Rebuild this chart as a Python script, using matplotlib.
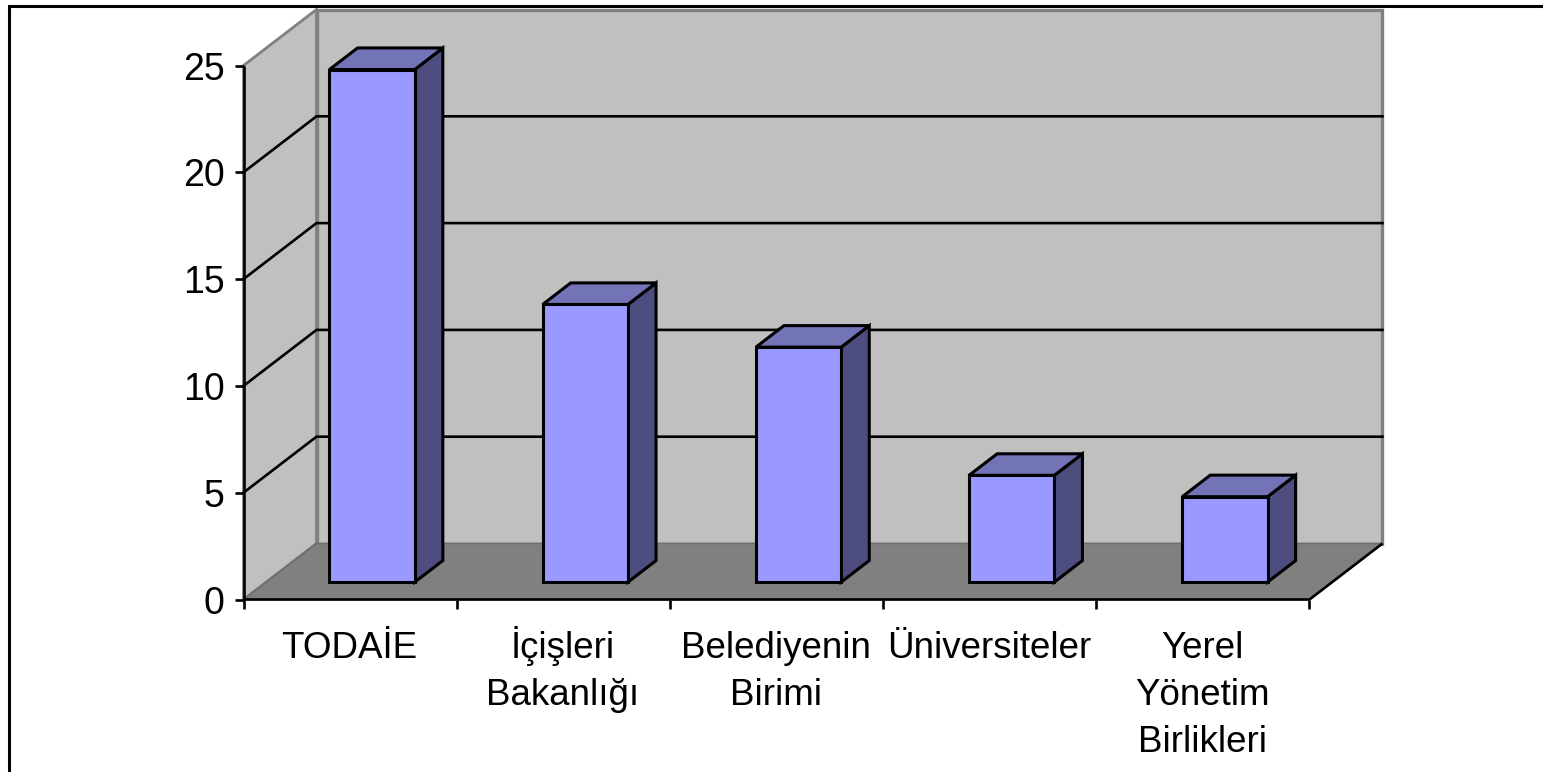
import matplotlib
matplotlib.use("Agg")
import matplotlib.pyplot as plt
from matplotlib.patches import Polygon

categories = ["TODAİE", "İçişleri\nBakanlığı", "Belediyenin\nBirimi", "Üniversiteler", "Yerel\nYönetim\nBirlikleri"]
values = [24, 13, 11, 5, 4]
y_ticks = [0, 5, 10, 15, 20, 25]

W, H = 1543, 772
X0, X1 = 243.5, 1309.5      # front plane pixels
Y0, YT = 599.5, 65.5
DX_PX, DY_PX = 73.0, 56.0   # depth of the box in pixels
BAR_W = 0.40
D_A, D_B = 0.31, 0.695      # bar front and back as a share of the box depth

n = len(categories)
plt.rcParams['font.family'] = ['Liberation Sans', 'DejaVu Sans']
fig = plt.figure(figsize=(W / 100, H / 100), dpi=100, facecolor="white")
ax = fig.add_axes([X0 / W, 1 - Y0 / H, (X1 - X0) / W, (Y0 - YT) / H])
ax.set_xlim(0, n)
ax.set_ylim(0, y_ticks[-1])
ax.patch.set_visible(False)

dx = DX_PX / ((X1 - X0) / n)
dy = DY_PX / ((Y0 - YT) / y_ticks[-1])


def P(x, y, d):
    return (x + d * dx, y + d * dy)


def face(pts, fc, ec, lw, z, join="miter"):
    ax.add_patch(Polygon(pts, closed=True, facecolor=fc, edgecolor=ec, linewidth=lw,
                         zorder=z, clip_on=False, joinstyle=join))


top = y_ticks[-1]
GREY = "#c0c0c0"
EDGE = "#808080"
# walls and floor
face([P(0, 0, 1), P(n, 0, 1), P(n, top, 1), P(0, top, 1)], GREY, EDGE, 2.4, 1)
face([P(0, 0, 0), P(0, 0, 1), P(0, top, 1), P(0, top, 0)], GREY, EDGE, 2.0, 1.5)
face([P(0, 0, 0), P(n, 0, 0), P(n, 0, 1), P(0, 0, 1)], "#808080", "#6e6e6e", 1.2, 2)

# gridlines on side and back walls
for t in y_ticks[1:-1]:
    xs, ys = zip(P(0, t, 0), P(0, t, 1), P(n, t, 1))
    ax.plot(xs, ys, color="black", lw=1.9, zorder=3, clip_on=False, solid_joinstyle="miter")

# floor front and right edges, left wall edge
xs, ys = zip(P(0, 0, 0), P(n, 0, 0), P(n, 0, 1))
ax.plot(xs, ys, color="black", lw=1.9, zorder=4, clip_on=False, solid_capstyle="butt")
ax.plot([0, 0], [0, top], color="black", lw=1.9, zorder=4, clip_on=False, solid_capstyle="butt")

# bars
for i, v in enumerate(values):
    l, r = i + 0.5 - BAR_W / 2 - 0.003, i + 0.5 + BAR_W / 2 - 0.003
    face([P(r, 0, D_A), P(r, 0, D_B), P(r, v, D_B), P(r, v, D_A)], "#4d4d80", "black", 2.2, 5)
    face([P(l, v, D_A), P(r, v, D_A), P(r, v, D_B), P(l, v, D_B)], "#7373b8", "black", 2.2, 5)
    face([P(l, 0, D_A), P(r, 0, D_A), P(r, v, D_A), P(l, v, D_A)], "#9999ff", "black", 2.2, 6)

for s in ("top", "right", "left", "bottom"):
    ax.spines[s].set_visible(False)
ax.set_yticks(y_ticks)
ax.set_yticklabels([str(t) for t in y_ticks], fontsize=27)
ax.set_xticks(range(n + 1))
ax.set_xticklabels([""] * (n + 1))
ax.tick_params(axis="y", length=6.5, width=1.9, pad=7, color="black")
ax.tick_params(axis="x", length=6.5, width=1.9, color="black")

# category labels: one text per line, on fixed baselines 47 px apart
for i, c in enumerate(categories):
    for k, line in enumerate(c.split("\n")):
        ax.annotate(line, xy=(i + 0.5, 0), xycoords="data",
                    xytext=(-0.5, -(58.0 + 47.3 * k) * 0.72), textcoords="offset points",
                    ha="center", va="baseline", fontsize=26.5, annotation_clip=False)

# outer frame: left and top edges only
fig.add_artist(plt.Line2D([8.5 / W, 8.5 / W, 1], [0, 1 - 5.5 / H, 1 - 5.5 / H],
                          transform=fig.transFigure, color="black", lw=2.2,
                          solid_joinstyle="miter"))

fig.savefig("out.png", dpi=100)
